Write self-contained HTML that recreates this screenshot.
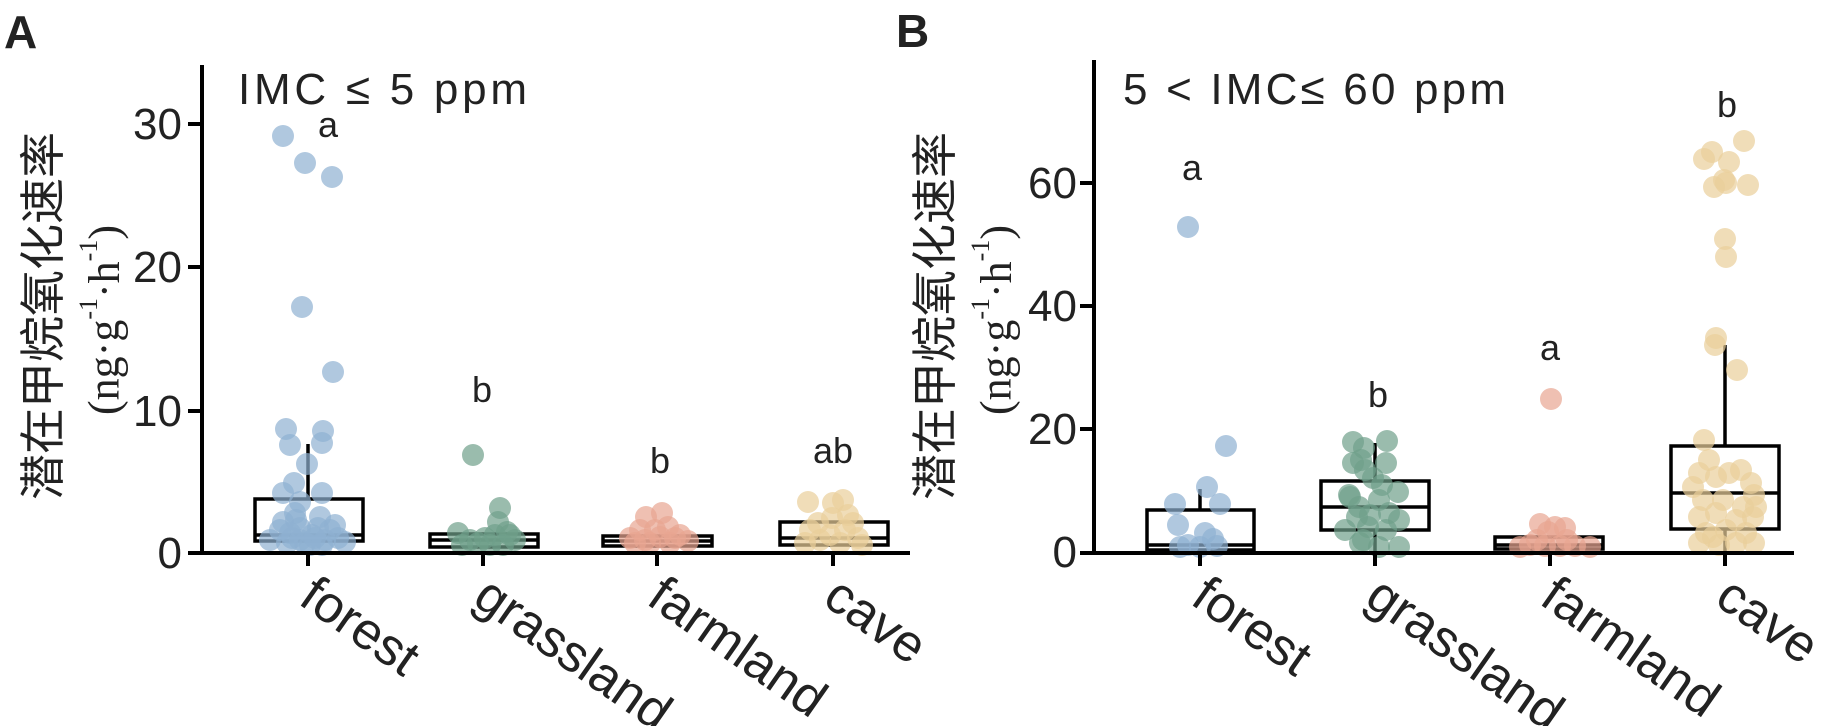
<!DOCTYPE html>
<html><head><meta charset="utf-8"><style>
html,body{margin:0;padding:0;background:#fff;}
svg{display:block;}
text{fill:#222;}
.sans{font-family:"Liberation Sans",Arial,sans-serif;}
.cjk{font-family:"Liberation Sans","Noto Sans CJK SC",sans-serif;}
.serif{font-family:"Liberation Serif","Times New Roman",serif;}
</style></head><body>
<svg width="1836" height="726" viewBox="0 0 1836 726" xmlns="http://www.w3.org/2000/svg">
<rect width="1836" height="726" fill="#fff"/>

<!-- Panel labels -->
<text x="4" y="48" class="sans" font-size="46" font-weight="bold">A</text>
<text x="896" y="47" class="sans" font-size="46" font-weight="bold">B</text>

<!-- Y axis titles -->
<text transform="translate(43,316) rotate(-90)" class="cjk" font-size="46" text-anchor="middle" dominant-baseline="central" fill="#111">潜在甲烷氧化速率</text>
<text transform="translate(104,320) rotate(-90)" class="serif" font-size="44" text-anchor="middle" dominant-baseline="central" fill="#111">(ng·g<tspan font-size="26" dy="-16">-1</tspan><tspan dy="16">·h</tspan><tspan font-size="26" dy="-16">-1</tspan><tspan dy="16">)</tspan></text>
<text transform="translate(935,316) rotate(-90)" class="cjk" font-size="46" text-anchor="middle" dominant-baseline="central" fill="#111">潜在甲烷氧化速率</text>
<text transform="translate(996,320) rotate(-90)" class="serif" font-size="44" text-anchor="middle" dominant-baseline="central" fill="#111">(ng·g<tspan font-size="26" dy="-16">-1</tspan><tspan dy="16">·h</tspan><tspan font-size="26" dy="-16">-1</tspan><tspan dy="16">)</tspan></text>

<!-- Titles -->
<text x="238" y="104" class="sans" font-size="44" textLength="289" lengthAdjust="spacing">IMC ≤ 5 ppm</text>
<text x="1123" y="104" class="sans" font-size="44" textLength="383" lengthAdjust="spacing">5 &lt; IMC≤ 60 ppm</text>

<!-- ===== Panel A boxes ===== -->
<g stroke="#000" stroke-width="3.5" fill="none">
  <line x1="308" y1="499" x2="308" y2="444"/>
  <rect x="255" y="499" width="108" height="42"/>
  <line x1="255" y1="535" x2="363" y2="535"/>
  <rect x="430" y="534" width="108" height="13"/>
  <line x1="430" y1="540" x2="538" y2="540"/>
  <rect x="603" y="536" width="109" height="10"/>
  <line x1="603" y1="541" x2="712" y2="541"/>
  <rect x="780" y="522" width="108" height="23"/>
  <line x1="780" y1="538" x2="888" y2="538"/>
</g>

<!-- Panel A dots -->
<g fill="#8fb0d2" fill-opacity="0.7">
<circle cx="283" cy="136" r="11"/><circle cx="305" cy="163" r="11"/><circle cx="332" cy="177" r="11"/>
<circle cx="302" cy="307" r="11"/><circle cx="333" cy="372" r="11"/><circle cx="286" cy="429" r="11"/>
<circle cx="323" cy="431" r="11"/><circle cx="290" cy="445" r="11"/><circle cx="322" cy="443" r="11"/>
<circle cx="307" cy="464" r="11"/><circle cx="294" cy="483" r="11"/><circle cx="283" cy="493" r="11"/>
<circle cx="322" cy="493" r="11"/><circle cx="300" cy="502" r="11"/><circle cx="320" cy="517" r="11"/>
<circle cx="295" cy="513" r="11"/><circle cx="280" cy="530" r="11"/><circle cx="292" cy="538" r="11"/>
<circle cx="300" cy="528" r="11"/><circle cx="312" cy="535" r="11"/><circle cx="325" cy="540" r="11"/>
<circle cx="338" cy="538" r="11"/><circle cx="287" cy="543" r="11"/><circle cx="305" cy="543" r="11"/>
<circle cx="318" cy="528" r="11"/><circle cx="330" cy="530" r="11"/><circle cx="270" cy="540" r="11"/>
<circle cx="345" cy="542" r="11"/><circle cx="296" cy="520" r="11"/><circle cx="310" cy="545" r="11"/>
<circle cx="283" cy="522" r="11"/><circle cx="335" cy="525" r="11"/><circle cx="300" cy="540" r="11"/>
<circle cx="322" cy="545" r="11"/><circle cx="290" cy="533" r="11"/><circle cx="315" cy="538" r="11"/>
</g>
<g fill="#6fa08a" fill-opacity="0.7">
<circle cx="473" cy="455" r="11"/><circle cx="500" cy="508" r="11"/><circle cx="498" cy="522" r="11"/>
<circle cx="458" cy="533" r="11"/><circle cx="470" cy="540" r="11"/><circle cx="485" cy="538" r="11"/>
<circle cx="495" cy="535" r="11"/><circle cx="507" cy="532" r="11"/><circle cx="515" cy="540" r="11"/>
<circle cx="478" cy="543" r="11"/><circle cx="490" cy="545" r="11"/><circle cx="462" cy="545" r="11"/>
<circle cx="503" cy="545" r="11"/><circle cx="510" cy="535" r="11"/>
</g>
<g fill="#e8a592" fill-opacity="0.7">
<circle cx="646" cy="517" r="11"/><circle cx="662" cy="513" r="11"/><circle cx="640" cy="530" r="11"/>
<circle cx="655" cy="530" r="11"/><circle cx="668" cy="527" r="11"/><circle cx="630" cy="538" r="11"/>
<circle cx="645" cy="540" r="11"/><circle cx="660" cy="537" r="11"/><circle cx="675" cy="538" r="11"/>
<circle cx="688" cy="541" r="11"/><circle cx="650" cy="543" r="11"/><circle cx="670" cy="543" r="11"/>
<circle cx="635" cy="543" r="11"/><circle cx="680" cy="535" r="11"/>
</g>
<g fill="#e9cf9a" fill-opacity="0.7">
<circle cx="808" cy="502" r="11"/><circle cx="833" cy="503" r="11"/><circle cx="843" cy="500" r="11"/>
<circle cx="818" cy="523" r="11"/><circle cx="853" cy="523" r="11"/><circle cx="810" cy="530" r="11"/>
<circle cx="830" cy="535" r="11"/><circle cx="845" cy="530" r="11"/><circle cx="858" cy="538" r="11"/>
<circle cx="820" cy="540" r="11"/><circle cx="840" cy="543" r="11"/><circle cx="805" cy="543" r="11"/>
<circle cx="862" cy="545" r="11"/><circle cx="832" cy="518" r="11"/><circle cx="848" cy="515" r="11"/>
</g>

<!-- Panel A axes -->
<g stroke="#000" stroke-width="4" fill="none">
  <line x1="202" y1="65" x2="202" y2="555"/>
  <line x1="188" y1="553" x2="910" y2="553"/>
  <line x1="188" y1="124" x2="202" y2="124"/>
  <line x1="188" y1="267" x2="202" y2="267"/>
  <line x1="188" y1="411" x2="202" y2="411"/>
  <line x1="308" y1="553" x2="308" y2="566"/>
  <line x1="483" y1="553" x2="483" y2="566"/>
  <line x1="657" y1="553" x2="657" y2="566"/>
  <line x1="833" y1="553" x2="833" y2="566"/>
</g>
<g class="sans" font-size="44" text-anchor="end">
  <text x="182" y="139">30</text>
  <text x="182" y="282">20</text>
  <text x="182" y="426">10</text>
  <text x="182" y="568">0</text>
</g>
<g class="sans" font-size="36" text-anchor="middle">
  <text x="328" y="137">a</text>
  <text x="482" y="402">b</text>
  <text x="660" y="473">b</text>
  <text x="833" y="463">ab</text>
</g>
<g class="sans" font-size="52">
  <text transform="translate(297,603) rotate(35)">forest</text>
  <text transform="translate(471,603) rotate(35)">grassland</text>
  <text transform="translate(645,603) rotate(35)">farmland</text>
  <text transform="translate(821,603) rotate(35)">cave</text>
</g>

<!-- ===== Panel B boxes ===== -->
<g stroke="#000" stroke-width="3.5" fill="none">
  <line x1="1200" y1="510" x2="1200" y2="489"/>
  <rect x="1147" y="510" width="107" height="40"/>
  <line x1="1147" y1="545" x2="1254" y2="545"/>
  <line x1="1375" y1="481" x2="1375" y2="443"/>
  <line x1="1375" y1="530" x2="1375" y2="552"/>
  <rect x="1321" y="481" width="108" height="49"/>
  <line x1="1321" y1="507" x2="1429" y2="507"/>
  <rect x="1495" y="537" width="108" height="12"/>
  <line x1="1495" y1="545" x2="1603" y2="545"/>
  <line x1="1725" y1="446" x2="1725" y2="345"/>
  <line x1="1725" y1="529" x2="1725" y2="552"/>
  <rect x="1671" y="446" width="108" height="83"/>
  <line x1="1671" y1="493" x2="1779" y2="493"/>
</g>

<!-- Panel B dots -->
<g fill="#8fb0d2" fill-opacity="0.7">
<circle cx="1188" cy="227" r="11"/><circle cx="1226" cy="446" r="11"/><circle cx="1207" cy="487" r="11"/>
<circle cx="1175" cy="504" r="11"/><circle cx="1220" cy="504" r="11"/><circle cx="1178" cy="525" r="11"/>
<circle cx="1205" cy="533" r="11"/><circle cx="1213" cy="539" r="11"/><circle cx="1188" cy="545" r="11"/>
<circle cx="1180" cy="547" r="11"/><circle cx="1200" cy="547" r="11"/><circle cx="1217" cy="546" r="11"/>
</g>
<g fill="#6fa08a" fill-opacity="0.7">
<circle cx="1353" cy="442" r="11"/><circle cx="1387" cy="441" r="11"/><circle cx="1364" cy="448" r="11"/>
<circle cx="1361" cy="460" r="11"/><circle cx="1386" cy="463" r="11"/><circle cx="1373" cy="478" r="11"/>
<circle cx="1398" cy="492" r="11"/><circle cx="1349" cy="495" r="11"/><circle cx="1379" cy="500" r="11"/>
<circle cx="1359" cy="507" r="11"/><circle cx="1389" cy="513" r="11"/><circle cx="1399" cy="520" r="11"/>
<circle cx="1368" cy="527" r="11"/><circle cx="1386" cy="530" r="11"/><circle cx="1363" cy="540" r="11"/>
<circle cx="1399" cy="547" r="11"/><circle cx="1379" cy="547" r="11"/><circle cx="1353" cy="463" r="11"/>
<circle cx="1350" cy="497" r="11"/><circle cx="1357" cy="517" r="11"/><circle cx="1360" cy="543" r="11"/>
<circle cx="1345" cy="530" r="11"/><circle cx="1370" cy="515" r="11"/><circle cx="1382" cy="485" r="11"/>
<circle cx="1365" cy="470" r="11"/>
</g>
<g fill="#e8a592" fill-opacity="0.7">
<circle cx="1551" cy="399" r="11"/><circle cx="1540" cy="524" r="11"/><circle cx="1555" cy="527" r="11"/>
<circle cx="1565" cy="528" r="11"/><circle cx="1548" cy="532" r="11"/><circle cx="1530" cy="545" r="11"/>
<circle cx="1545" cy="546" r="11"/><circle cx="1560" cy="546" r="11"/><circle cx="1575" cy="546" r="11"/>
<circle cx="1520" cy="547" r="11"/><circle cx="1590" cy="547" r="11"/><circle cx="1537" cy="540" r="11"/>
<circle cx="1567" cy="540" r="11"/>
</g>
<g fill="#e9cf9a" fill-opacity="0.7">
<circle cx="1744" cy="141" r="11"/><circle cx="1712" cy="152" r="11"/><circle cx="1704" cy="159" r="11"/>
<circle cx="1729" cy="162" r="11"/><circle cx="1724" cy="180" r="11"/><circle cx="1714" cy="187" r="11"/>
<circle cx="1726" cy="183" r="11"/><circle cx="1748" cy="185" r="11"/><circle cx="1725" cy="239" r="11"/>
<circle cx="1726" cy="257" r="11"/><circle cx="1716" cy="338" r="11"/><circle cx="1715" cy="345" r="11"/>
<circle cx="1737" cy="370" r="11"/><circle cx="1704" cy="440" r="11"/>
<circle cx="1709" cy="460" r="11"/><circle cx="1699" cy="473" r="11"/><circle cx="1741" cy="470" r="11"/>
<circle cx="1751" cy="483" r="11"/><circle cx="1716" cy="477" r="11"/><circle cx="1729" cy="473" r="11"/>
<circle cx="1703" cy="500" r="11"/><circle cx="1723" cy="500" r="11"/><circle cx="1743" cy="507" r="11"/>
<circle cx="1754" cy="495" r="11"/><circle cx="1699" cy="517" r="11"/><circle cx="1716" cy="513" r="11"/>
<circle cx="1736" cy="520" r="11"/><circle cx="1753" cy="517" r="11"/><circle cx="1706" cy="533" r="11"/>
<circle cx="1726" cy="530" r="11"/><circle cx="1746" cy="533" r="11"/><circle cx="1699" cy="543" r="11"/>
<circle cx="1719" cy="545" r="11"/><circle cx="1736" cy="543" r="11"/><circle cx="1754" cy="543" r="11"/>
<circle cx="1713" cy="537" r="11"/><circle cx="1693" cy="487" r="11"/><circle cx="1756" cy="507" r="11"/>
</g>

<!-- Panel B axes -->
<g stroke="#000" stroke-width="4" fill="none">
  <line x1="1094" y1="60" x2="1094" y2="555"/>
  <line x1="1080" y1="553" x2="1794" y2="553"/>
  <line x1="1080" y1="183" x2="1094" y2="183"/>
  <line x1="1080" y1="306" x2="1094" y2="306"/>
  <line x1="1080" y1="429" x2="1094" y2="429"/>
  <line x1="1200" y1="553" x2="1200" y2="566"/>
  <line x1="1375" y1="553" x2="1375" y2="566"/>
  <line x1="1550" y1="553" x2="1550" y2="566"/>
  <line x1="1725" y1="553" x2="1725" y2="566"/>
</g>
<g class="sans" font-size="44" text-anchor="end">
  <text x="1077" y="198">60</text>
  <text x="1077" y="321">40</text>
  <text x="1077" y="444">20</text>
  <text x="1077" y="567">0</text>
</g>
<g class="sans" font-size="36" text-anchor="middle">
  <text x="1192" y="180">a</text>
  <text x="1378" y="407">b</text>
  <text x="1550" y="360">a</text>
  <text x="1727" y="117">b</text>
</g>
<g class="sans" font-size="52">
  <text transform="translate(1189,603) rotate(35)">forest</text>
  <text transform="translate(1363,603) rotate(35)">grassland</text>
  <text transform="translate(1538,603) rotate(35)">farmland</text>
  <text transform="translate(1713,603) rotate(35)">cave</text>
</g>
</svg>
</body></html>
